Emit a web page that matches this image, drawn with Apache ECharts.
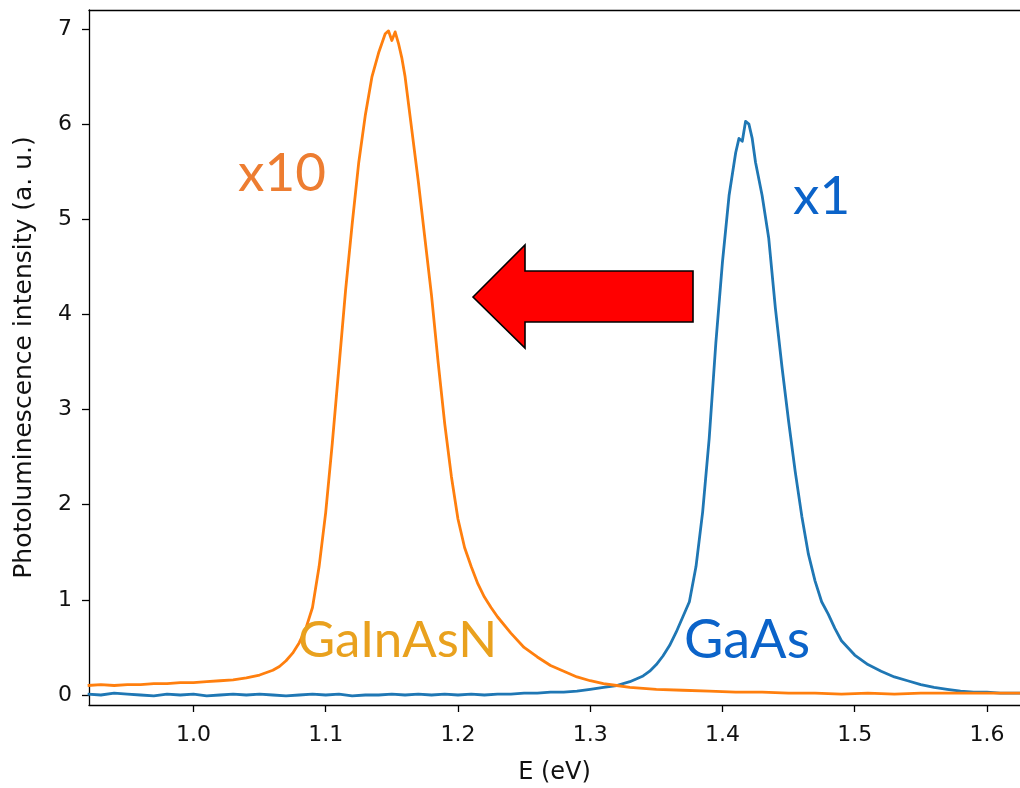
<!DOCTYPE html>
<html>
<head>
    <meta charset="utf-8">
    <script src="https://cdn.jsdelivr.net/npm/echarts@6/dist/echarts.min.js"></script>
    <style>
        html, body { margin: 0; padding: 0; background: #fff; }
        #pl { width: 1020px; height: 788px; }
    </style>
</head>
<body>
<div id="pl"></div>
<script>
    // tick labels
    var xTicks = [1.0, 1.1, 1.2, 1.3, 1.4, 1.5, 1.6];
    var yTicks = [0, 1, 2, 3, 4, 5, 6, 7];

    // GaAs (x1)
    var gaasE = [0.92, 0.93, 0.94, 0.95, 0.96, 0.97, 0.98, 0.99, 1.00, 1.01, 1.02, 1.03, 1.04, 1.05, 1.06, 1.07,
        1.08, 1.09, 1.10, 1.11, 1.12, 1.13, 1.14, 1.15, 1.16, 1.17, 1.18, 1.19, 1.20, 1.21, 1.22, 1.23, 1.24,
        1.25, 1.26, 1.27, 1.28, 1.29, 1.30, 1.31, 1.32, 1.33, 1.34, 1.345, 1.35, 1.355, 1.36, 1.365, 1.37,
        1.375, 1.38, 1.385, 1.39, 1.395, 1.40, 1.405, 1.41, 1.4125, 1.415, 1.4175, 1.42, 1.4225, 1.425, 1.43,
        1.435, 1.44, 1.445, 1.45, 1.455, 1.46, 1.465, 1.47, 1.475, 1.48, 1.485, 1.49, 1.50, 1.51, 1.52, 1.53,
        1.54, 1.55, 1.56, 1.57, 1.58, 1.59, 1.60, 1.61, 1.62, 1.63];
    var gaasI = [0.01, 0.00, 0.02, 0.01, 0.00, -0.01, 0.01, 0.00, 0.01, -0.01, 0.00, 0.01, 0.00, 0.01, 0.00, -0.01,
        0.00, 0.01, 0.00, 0.01, -0.01, 0.00, 0.00, 0.01, 0.00, 0.01, 0.00, 0.01, 0.00, 0.01, 0.00, 0.01, 0.01,
        0.02, 0.02, 0.03, 0.03, 0.04, 0.06, 0.08, 0.10, 0.14, 0.20, 0.25, 0.32, 0.41, 0.52, 0.66, 0.82,
        0.98, 1.35, 1.92, 2.70, 3.70, 4.55, 5.25, 5.70, 5.85, 5.82, 6.03, 6.00, 5.85, 5.60, 5.25,
        4.80, 4.07, 3.45, 2.88, 2.35, 1.88, 1.48, 1.20, 0.98, 0.85, 0.70, 0.57, 0.42, 0.32, 0.25, 0.19,
        0.15, 0.11, 0.08, 0.06, 0.04, 0.03, 0.03, 0.02, 0.02, 0.02];

    // GaInAsN (x10)
    var gainE = [0.92, 0.93, 0.94, 0.95, 0.96, 0.97, 0.98, 0.99, 1.00, 1.01, 1.02, 1.03, 1.04, 1.05, 1.06, 1.065,
        1.07, 1.075, 1.08, 1.085, 1.09, 1.095, 1.10, 1.105, 1.11, 1.115, 1.12, 1.125, 1.13, 1.135, 1.14,
        1.1425, 1.145, 1.1475, 1.15, 1.1525, 1.155, 1.1575, 1.16, 1.165, 1.17, 1.175, 1.18, 1.185, 1.19,
        1.195, 1.20, 1.205, 1.21, 1.215, 1.22, 1.225, 1.23, 1.24, 1.25, 1.26, 1.27, 1.28, 1.29, 1.30, 1.31,
        1.32, 1.33, 1.34, 1.35, 1.37, 1.39, 1.41, 1.43, 1.45, 1.47, 1.49, 1.51, 1.53, 1.55, 1.57, 1.59,
        1.61, 1.63];
    var gainI = [0.10, 0.11, 0.10, 0.11, 0.11, 0.12, 0.12, 0.13, 0.13, 0.14, 0.15, 0.16, 0.18, 0.21, 0.26, 0.30,
        0.36, 0.44, 0.55, 0.70, 0.92, 1.35, 1.92, 2.65, 3.45, 4.25, 4.95, 5.60, 6.10, 6.50, 6.75,
        6.85, 6.95, 6.98, 6.88, 6.97, 6.85, 6.70, 6.50, 5.95, 5.40, 4.80, 4.20, 3.50, 2.85,
        2.30, 1.85, 1.55, 1.35, 1.17, 1.03, 0.92, 0.82, 0.65, 0.50, 0.40, 0.31, 0.25, 0.19, 0.15, 0.12,
        0.10, 0.08, 0.07, 0.06, 0.05, 0.04, 0.03, 0.03, 0.02, 0.02, 0.01, 0.02, 0.01, 0.02, 0.02, 0.02,
        0.02, 0.02];

    function pairs(xs, ys) {
        return xs.map(function (x, i) { return [x, ys[i]]; });
    }

    var chart = echarts.init(document.getElementById('pl'));
    var tickFont = 'DejaVu Sans';
    var spine = { color: '#000', width: 1.3 };

    var option = {
        animation: false,
        backgroundColor: '#fff',
        grid: { left: 89, top: 10, right: 0, bottom: 83, outerBoundsMode: 'none', containLabel: false },
        xAxis: [
            {
                type: 'value',
                min: 0.921,
                max: 1.625,
                name: 'E (eV)',
                nameLocation: 'middle',
                nameGap: 56,
                nameTextStyle: { fontFamily: tickFont, fontSize: 24, color: '#111' },
                axisLine: { show: true, onZero: false, lineStyle: spine },
                axisTick: { show: true, length: 7, lineStyle: spine, customValues: xTicks },
                axisLabel: {
                    customValues: xTicks,
                    fontFamily: tickFont, fontSize: 22, color: '#111', margin: 19,
                    formatter: function (v) { return v.toFixed(1); }
                },
                splitLine: { show: false }
            },
            {
                // top spine only
                type: 'value', position: 'top', min: 0.921, max: 1.625,
                axisLine: { show: true, onZero: false, lineStyle: spine },
                axisTick: { show: false }, axisLabel: { show: false }, splitLine: { show: false }
            }
        ],
        yAxis: {
            type: 'value',
            min: -0.105,
            max: 7.2,
            name: 'Photoluminescence intensity (a. u.)',
            nameLocation: 'middle',
            nameGap: 52,
            nameTextStyle: { fontFamily: tickFont, fontSize: 25, color: '#111' },
            axisLine: { show: true, onZero: false, lineStyle: spine },
            axisTick: { show: true, length: 7, lineStyle: spine, customValues: yTicks },
            axisLabel: {
                customValues: yTicks,
                fontFamily: tickFont, fontSize: 22, color: '#111', margin: 17
            },
            splitLine: { show: false }
        },
        series: [
            {
                name: 'GaAs',
                type: 'line',
                showSymbol: false,
                lineStyle: { color: '#1f77b4', width: 2.8, join: 'round' },
                data: pairs(gaasE, gaasI)
            },
            {
                name: 'GaInAsN',
                type: 'line',
                showSymbol: false,
                lineStyle: { color: '#ff7f0e', width: 2.8, join: 'round' },
                data: pairs(gainE, gainI)
            }
        ],
        graphic: [
            // red arrow pointing from GaAs to GaInAsN
            {
                type: 'polygon',
                shape: { points: [[473, 297], [525, 245], [525, 271], [693, 271], [693, 322], [525, 322], [525, 348]] },
                style: { fill: '#ff0000', stroke: '#000', lineWidth: 1.6 },
                z: 100
            },
            {
                type: 'text', z: 100,
                style: { text: 'x10', x: 238, y: 174, font: '53px Lato', fill: '#ed7d31', verticalAlign: 'middle' }
            },
            {
                type: 'text', z: 100,
                style: { text: 'x1', x: 793, y: 197, font: '53px Lato', fill: '#0b63c9', verticalAlign: 'middle' }
            },
            {
                type: 'text', z: 100,
                style: { text: 'GaInAsN', x: 298, y: 641, font: '51px Lato', fill: '#e9a11e', verticalAlign: 'middle' }
            },
            {
                type: 'text', z: 100,
                style: { text: 'GaAs', x: 684, y: 641, font: '54px Lato', fill: '#0b63c9', verticalAlign: 'middle' }
            }
        ]
    };

    chart.setOption(option);
</script>
</body>
</html>
